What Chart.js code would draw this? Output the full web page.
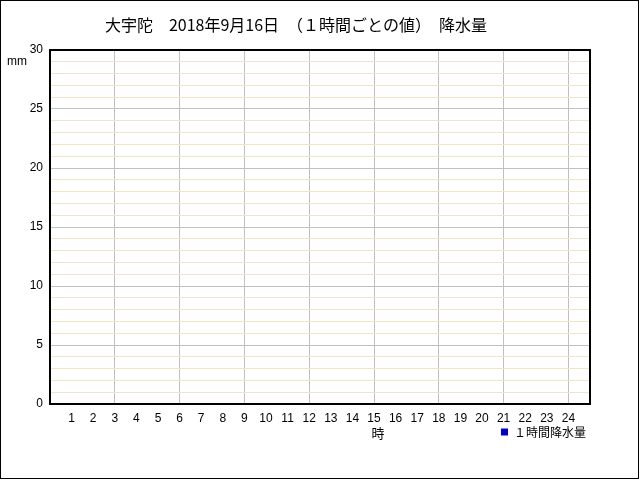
<!DOCTYPE html>
<html>
<head>
<meta charset="utf-8">
<script src="https://cdn.jsdelivr.net/npm/chart.js@4/dist/chart.umd.min.js"></script>
<style>
  body { margin: 0; background: #fff; }
  canvas { display: block; }
</style>
</head>
<body>
<canvas id="rainChart" width="640" height="480"></canvas>
<script>
// 1時間ごとの値（この日は降水なし）
const hours = [1, 2, 3, 4, 5, 6, 7, 8, 9, 10, 11, 12, 13, 14, 15, 16, 17, 18, 19, 20, 21, 22, 23, 24];
const rain = [0, 0, 0, 0, 0, 0, 0, 0, 0, 0, 0, 0, 0, 0, 0, 0, 0, 0, 0, 0, 0, 0, 0, 0];
const titleText = '大宇陀　2018年9月16日　（１時間ごとの値）　降水量';
const seriesName = '１時間降水量';
const yUnit = 'mm';
const xUnit = '時';

const tickFont = { family: "'Liberation Sans Narrow', 'Liberation Sans', sans-serif", size: 12 };
const jpFont = "'Noto Sans CJK JP', sans-serif";

// 目盛線の色（y: 1mmごと、5mmごとに灰色 / x: 3時間ごと）
const yGridColors = [];
for (let v = 0; v <= 30; v++) yGridColors.push(v % 5 === 0 ? '#c0c0c0' : '#ede6c8');
const xGridColors = [];
for (let v = 0; v <= 25; v++) xGridColors.push(v > 0 && v < 25 && v % 3 === 0 ? '#c0c0c0' : 'rgba(0,0,0,0)');

// 枠線と単位の文字
const decorations = {
    id: 'decorations',
    afterDraw(chart) {
        const ctx = chart.ctx;
        const a = chart.chartArea;
        ctx.save();
        ctx.strokeStyle = '#000';
        ctx.lineWidth = 2;
        ctx.strokeRect(a.left, a.top, a.right - a.left, a.bottom - a.top);
        ctx.lineWidth = 1;
        ctx.strokeRect(0.5, 0.5, 638, 478);

        ctx.fillStyle = '#000';
        ctx.textAlign = 'center';
        ctx.textBaseline = 'middle';
        ctx.font = '12px ' + tickFont.family;
        ctx.fillText(yUnit, 17, 62);
        ctx.font = '13px ' + jpFont;
        ctx.fillText(xUnit, chart.scales.x.getPixelForValue(15) + 4, 433);
        ctx.restore();
    }
};

new Chart(document.getElementById('rainChart'), {
    type: 'bar',
    data: {
        datasets: [{
            label: seriesName,
            data: hours.map((h, i) => ({ x: h, y: rain[i] })),
            backgroundColor: '#0000cc',
            borderWidth: 0
        }]
    },
    options: {
        responsive: false,
        animation: false,
        layout: { padding: { left: 2, right: 50, top: 0, bottom: 32 } },
        plugins: {
            title: {
                display: true,
                text: titleText,
                color: '#000',
                font: { family: jpFont, size: 16, weight: 'normal', lineHeight: 1.2 },
                padding: { top: 15, bottom: 15.8 }
            },
            legend: {
                position: 'bottom',
                align: 'end',
                labels: {
                    color: '#000',
                    font: { family: jpFont, size: 12 },
                    boxWidth: 7,
                    boxHeight: 7,
                    padding: 4
                }
            },
            tooltip: { enabled: false }
        },
        scales: {
            x: {
                type: 'linear',
                min: 0,
                max: 25,
                offset: false,
                afterFit: s => { s.height = 18; },
                border: { display: false },
                grid: {
                    offset: false,
                    drawTicks: false,
                    color: xGridColors
                },
                ticks: {
                    stepSize: 1,
                    autoSkip: false,
                    maxRotation: 0,
                    padding: 7,
                    color: '#000',
                    font: tickFont,
                    callback: v => (v >= 1 && v <= 24) ? String(v) : ''
                }
            },
            y: {
                min: 0,
                max: 30,
                afterFit: s => { s.width = 48; },
                border: { display: false },
                grid: {
                    drawTicks: false,
                    color: yGridColors
                },
                ticks: {
                    stepSize: 1,
                    autoSkip: false,
                    padding: 7,
                    color: '#000',
                    font: tickFont,
                    callback: v => v % 5 === 0 ? String(v) : ''
                }
            }
        }
    },
    plugins: [decorations]
});
</script>
</body>
</html>
